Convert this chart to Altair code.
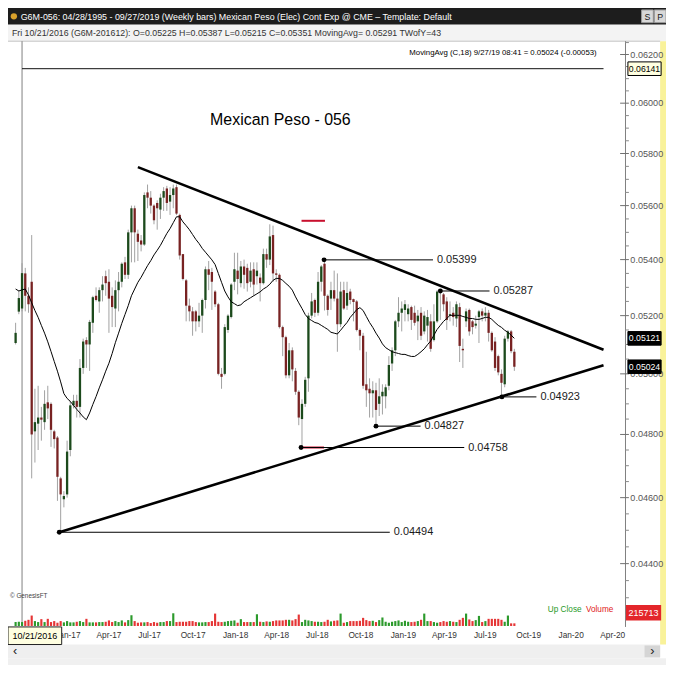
import math
import altair as alt
import pandas as pd

K = 658 / 674
def P(v):
    return round(v * K, 2)

FONT = "Liberation Sans, Arial, sans-serif"

# ---------------- data (weekly bars, 10/07/2016 .. 09/27/2019) ----------------
opens = [
0.05105, 0.05214, 0.05225, 0.05350, 0.05270, 0.05320, 0.04810, 0.04835, 0.04855, 0.04840,
0.04905, 0.04900, 0.04810, 0.04790, 0.04660, 0.04595, 0.04610, 0.04750, 0.04895, 0.04910,
0.04890, 0.05020, 0.05115, 0.05100, 0.05175, 0.05270, 0.05250, 0.05290, 0.05340, 0.05320,
0.05270, 0.05225, 0.05290, 0.05320, 0.05390, 0.05345, 0.05500, 0.05590, 0.05495, 0.05470,
0.05455, 0.05650, 0.05630, 0.05600, 0.05610, 0.05585, 0.05630, 0.05665, 0.05615, 0.05640,
0.05670, 0.05565, 0.05420, 0.05325, 0.05235, 0.05215, 0.05215, 0.05180, 0.05200, 0.05255,
0.05365, 0.05355, 0.05285, 0.05240, 0.05000, 0.05000, 0.05150, 0.05195, 0.05320, 0.05360,
0.05315, 0.05375, 0.05370, 0.05320, 0.05365, 0.05340, 0.05335, 0.05315, 0.05420, 0.05400,
0.05490, 0.05350, 0.05345, 0.05160, 0.05125, 0.04995, 0.05080, 0.05010, 0.04940, 0.04850,
0.04900, 0.04985, 0.05200, 0.05255, 0.05210, 0.05320, 0.05385, 0.05270, 0.05260, 0.05290,
0.05260, 0.05170, 0.05290, 0.05235, 0.05285, 0.05258, 0.05250, 0.05150, 0.05130, 0.04965,
0.04950, 0.04935, 0.04945, 0.04900, 0.04925, 0.04925, 0.04960, 0.05035, 0.05080, 0.05180,
0.05210, 0.05220, 0.05205, 0.05230, 0.05210, 0.05180, 0.05210, 0.05145, 0.05165, 0.05180,
0.05115, 0.05180, 0.05285, 0.05275, 0.05250, 0.05200, 0.05210, 0.05190, 0.05230, 0.05085,
0.05180, 0.05220, 0.05180, 0.05165, 0.05195, 0.05215, 0.05200, 0.05210, 0.05140, 0.05110,
0.05060, 0.05000, 0.04965, 0.05120, 0.05145, 0.05075]

highs = [
0.05175, 0.05290, 0.05387, 0.05370, 0.05300, 0.05490, 0.04950, 0.04960, 0.04890, 0.04945,
0.04960, 0.04905, 0.04815, 0.04795, 0.04665, 0.04620, 0.04780, 0.04910, 0.04930, 0.04930,
0.05050, 0.05120, 0.05125, 0.05185, 0.05270, 0.05300, 0.05300, 0.05340, 0.05360, 0.05365,
0.05300, 0.05325, 0.05355, 0.05390, 0.05410, 0.05510, 0.05600, 0.05600, 0.05510, 0.05490,
0.05650, 0.05680, 0.05655, 0.05605, 0.05620, 0.05645, 0.05670, 0.05675, 0.05670, 0.05680,
0.05680, 0.05570, 0.05420, 0.05330, 0.05260, 0.05230, 0.05220, 0.05245, 0.05260, 0.05375,
0.05395, 0.05370, 0.05290, 0.05245, 0.05020, 0.05170, 0.05205, 0.05315, 0.05425, 0.05425,
0.05395, 0.05400, 0.05385, 0.05390, 0.05390, 0.05390, 0.05350, 0.05440, 0.05440, 0.05530,
0.05525, 0.05365, 0.05350, 0.05165, 0.05130, 0.05105, 0.05090, 0.05020, 0.04945, 0.04915,
0.04990, 0.05210, 0.05280, 0.05260, 0.05355, 0.05380, 0.05399, 0.05275, 0.05320, 0.05360,
0.05350, 0.05320, 0.05320, 0.05320, 0.05295, 0.05260, 0.05255, 0.05155, 0.05140, 0.05075,
0.04985, 0.04975, 0.04970, 0.04985, 0.04965, 0.04965, 0.05060, 0.05090, 0.05185, 0.05265,
0.05250, 0.05255, 0.05240, 0.05235, 0.05235, 0.05220, 0.05230, 0.05215, 0.05220, 0.05205,
0.05240, 0.05290, 0.05287, 0.05280, 0.05265, 0.05250, 0.05230, 0.05250, 0.05245, 0.05120,
0.05225, 0.05225, 0.05185, 0.05200, 0.05220, 0.05225, 0.05230, 0.05220, 0.05145, 0.05125,
0.05065, 0.05015, 0.05130, 0.05150, 0.05150, 0.05085]

lows = [
0.05100, 0.05205, 0.05215, 0.05215, 0.05210, 0.04660, 0.04710, 0.04750, 0.04780, 0.04815,
0.04850, 0.04760, 0.04755, 0.04590, 0.04494, 0.04570, 0.04600, 0.04730, 0.04885, 0.04855,
0.04855, 0.05000, 0.05020, 0.05010, 0.05140, 0.05250, 0.05210, 0.05250, 0.05270, 0.05140,
0.05160, 0.05160, 0.05215, 0.05300, 0.05330, 0.05330, 0.05390, 0.05390, 0.05395, 0.05430,
0.05450, 0.05590, 0.05570, 0.05530, 0.05510, 0.05550, 0.05580, 0.05580, 0.05565, 0.05590,
0.05565, 0.05400, 0.05325, 0.05180, 0.05180, 0.05130, 0.05145, 0.05160, 0.05140, 0.05225,
0.05290, 0.05220, 0.05230, 0.04995, 0.04950, 0.04995, 0.05140, 0.05190, 0.05290, 0.05275,
0.05300, 0.05295, 0.05285, 0.05300, 0.05270, 0.05310, 0.05250, 0.05310, 0.05370, 0.05380,
0.05320, 0.05320, 0.05155, 0.05060, 0.04985, 0.04985, 0.04975, 0.04930, 0.04830, 0.04758,
0.04890, 0.04940, 0.05190, 0.05195, 0.05200, 0.05285, 0.05218, 0.05200, 0.05220, 0.05250,
0.05075, 0.05160, 0.05220, 0.05220, 0.05240, 0.05180, 0.05145, 0.05080, 0.04950, 0.04890,
0.04855, 0.04855, 0.04827, 0.04860, 0.04865, 0.04885, 0.04945, 0.05010, 0.05060, 0.05160,
0.05145, 0.05180, 0.05180, 0.05150, 0.05165, 0.05115, 0.05115, 0.05135, 0.05110, 0.05075,
0.05110, 0.05175, 0.05185, 0.05215, 0.05150, 0.05180, 0.05165, 0.05160, 0.05040, 0.05020,
0.05160, 0.05130, 0.05135, 0.05155, 0.05105, 0.05180, 0.05180, 0.05110, 0.05075, 0.05010,
0.04995, 0.04923, 0.04955, 0.05110, 0.05070, 0.05010]

closes = [
0.05140, 0.05262, 0.05351, 0.05270, 0.05240, 0.04800, 0.04840, 0.04855, 0.04848, 0.04900,
0.04885, 0.04815, 0.04785, 0.04665, 0.04610, 0.04605, 0.04745, 0.04895, 0.04910, 0.04890,
0.05020, 0.05110, 0.05100, 0.05178, 0.05265, 0.05255, 0.05290, 0.05310, 0.05315, 0.05260,
0.05230, 0.05290, 0.05320, 0.05385, 0.05345, 0.05500, 0.05590, 0.05500, 0.05465, 0.05455,
0.05640, 0.05630, 0.05600, 0.05545, 0.05590, 0.05630, 0.05655, 0.05610, 0.05640, 0.05665,
0.05570, 0.05415, 0.05330, 0.05235, 0.05215, 0.05180, 0.05180, 0.05200, 0.05255, 0.05365,
0.05345, 0.05320, 0.05240, 0.05000, 0.04990, 0.05160, 0.05200, 0.05310, 0.05365, 0.05330,
0.05375, 0.05345, 0.05315, 0.05360, 0.05310, 0.05360, 0.05315, 0.05420, 0.05400, 0.05485,
0.05350, 0.05345, 0.05160, 0.05125, 0.04995, 0.05080, 0.05015, 0.04940, 0.04855, 0.04900,
0.04980, 0.05200, 0.05250, 0.05210, 0.05320, 0.05375, 0.05270, 0.05220, 0.05290, 0.05260,
0.05170, 0.05285, 0.05225, 0.05280, 0.05255, 0.05248, 0.05150, 0.05130, 0.04960, 0.04945,
0.04935, 0.04945, 0.04880, 0.04925, 0.04940, 0.04955, 0.05030, 0.05080, 0.05180, 0.05210,
0.05225, 0.05240, 0.05225, 0.05185, 0.05175, 0.05200, 0.05130, 0.05200, 0.05195, 0.05085,
0.05180, 0.05285, 0.05280, 0.05240, 0.05185, 0.05205, 0.05195, 0.05240, 0.05095, 0.05080,
0.05215, 0.05145, 0.05160, 0.05172, 0.05215, 0.05200, 0.05210, 0.05140, 0.05080, 0.05020,
0.05005, 0.04970, 0.05120, 0.05145, 0.05077, 0.05024]

moving_avg = [
0.05294, 0.05287, 0.05291, 0.05294, 0.05273, 0.05245, 0.05218, 0.05194, 0.05166, 0.05139,
0.05109, 0.05076, 0.05042, 0.05009, 0.04973, 0.04934, 0.04918, 0.04908, 0.04895, 0.04882,
0.04870, 0.04857, 0.04848, 0.04870, 0.04898, 0.04924, 0.04953, 0.04980, 0.05009, 0.05036,
0.05069, 0.05106, 0.05139, 0.05173, 0.05204, 0.05235, 0.05270, 0.05294, 0.05318, 0.05336,
0.05357, 0.05378, 0.05396, 0.05417, 0.05434, 0.05452, 0.05474, 0.05496, 0.05514, 0.05536,
0.05558, 0.05558, 0.05539, 0.05525, 0.05510, 0.05492, 0.05474, 0.05459, 0.05441, 0.05427,
0.05413, 0.05399, 0.05382, 0.05350, 0.05318, 0.05287, 0.05266, 0.05249, 0.05242, 0.05235,
0.05238, 0.05249, 0.05256, 0.05263, 0.05270, 0.05277, 0.05284, 0.05294, 0.05301, 0.05311,
0.05325, 0.05332, 0.05332, 0.05325, 0.05314, 0.05304, 0.05290, 0.05266, 0.05245, 0.05225,
0.05204, 0.05190, 0.05183, 0.05176, 0.05173, 0.05166, 0.05159, 0.05152, 0.05142, 0.05139,
0.05136, 0.05149, 0.05163, 0.05176, 0.05194, 0.05207, 0.05221, 0.05228, 0.05218, 0.05197,
0.05176, 0.05159, 0.05139, 0.05122, 0.05102, 0.05089, 0.05082, 0.05075, 0.05072, 0.05069,
0.05066, 0.05066, 0.05062, 0.05059, 0.05059, 0.05066, 0.05075, 0.05085, 0.05099, 0.05112,
0.05132, 0.05152, 0.05166, 0.05180, 0.05190, 0.05201, 0.05201, 0.05201, 0.05201, 0.05197,
0.05194, 0.05190, 0.05190, 0.05187, 0.05187, 0.05190, 0.05194, 0.05194, 0.05187, 0.05176,
0.05166, 0.05159, 0.05149, 0.05142, 0.05132, 0.05121]

volumes = [
64000, 69000, 64000, 85000, 101000, 171000, 80000, 64000, 112000, 64000,
117000, 64000, 80000, 53000, 80000, 59000, 80000, 59000, 59000, 69000,
80000, 64000, 117000, 59000, 59000, 59000, 64000, 64000, 69000, 91000,
64000, 80000, 64000, 91000, 59000, 96000, 176000, 80000, 53000, 59000,
59000, 64000, 48000, 64000, 53000, 64000, 64000, 80000, 80000, 208000,
64000, 69000, 69000, 69000, 80000, 80000, 64000, 59000, 59000, 64000,
64000, 80000, 203000, 69000, 64000, 69000, 80000, 85000, 91000, 53000,
112000, 64000, 64000, 64000, 64000, 192000, 69000, 64000, 75000, 69000,
80000, 91000, 91000, 91000, 101000, 101000, 91000, 112000, 187000, 64000,
101000, 91000, 80000, 69000, 69000, 64000, 69000, 101000, 75000, 85000,
91000, 203000, 53000, 64000, 80000, 80000, 80000, 85000, 133000, 96000,
80000, 85000, 64000, 96000, 139000, 69000, 53000, 69000, 80000, 91000,
64000, 85000, 69000, 64000, 69000, 80000, 101000, 203000, 80000, 80000,
64000, 53000, 64000, 80000, 69000, 80000, 69000, 64000, 101000, 133000,
203000, 107000, 80000, 96000, 165000, 64000, 80000, 117000, 117000, 117000,
117000, 101000, 69000, 171000, 43000, 43000]

n = len(closes)
assert len(opens) == n and len(highs) == n and len(lows) == n and len(volumes) == n and len(moving_avg) == n

week_dates = pd.date_range("2016-10-07", periods=n, freq="7D").strftime("%Y-%m-%d").tolist()

# annotations
ann_dates = ["2017-01-10", "2018-06-20", "2018-08-09", "2018-11-30", "2019-04-19", "2019-08-31"]
ann_end = ["2018-12-30", "2019-06-10", "2019-04-03", "2019-03-07", "2019-08-04", "2019-11-14"]
ann_price = [0.04494, 0.04758, 0.05399, 0.04827, 0.05287, 0.04923]

trend_start_date = ["2017-06-30", "2017-01-10"]
trend_start_price = [0.05747, 0.04494]
trend_end_date = ["2020-04-08", "2020-04-08"]
trend_end_price = [0.05082, 0.05029]

red_d0 = ["2018-06-21", "2018-06-21"]
red_d1 = ["2018-08-11", "2018-08-09"]
red_p = [0.05543, 0.04758]

month_dates = ["2017-01-01", "2017-04-01", "2017-07-01", "2017-10-01", "2018-01-01", "2018-04-01",
               "2018-07-01", "2018-10-01", "2019-01-01", "2019-04-01", "2019-07-01", "2019-10-01",
               "2020-01-01", "2020-04-01"]
month_labels = ["Jan-17", "Apr-17", "Jul-17", "Oct-17", "Jan-18", "Apr-18", "Jul-18", "Oct-18",
                "Jan-19", "Apr-19", "Jul-19", "Oct-19", "Jan-20", "Apr-20"]

major_ticks = [0.044, 0.046, 0.048, 0.050, 0.052, 0.054, 0.056, 0.058, 0.060, 0.062]
minor_ticks = [0.0425, 0.043, 0.0435] + [m + k * 0.0005 for m in major_ticks for k in (1, 2, 3)]
minor_ticks = [t for t in minor_ticks if t < 0.0626]

last_line = 0.06141
ma_last = 0.05121
close_last = 0.05024
vol_label = 215713

# ---------------- frames ----------------
bars = pd.DataFrame({"date": week_dates, "open": opens, "high": highs, "low": lows,
                     "close": closes, "volume": volumes, "ma": moving_avg})
ann = pd.DataFrame({"d": ann_dates, "e": ann_end, "p": ann_price})
trend = pd.DataFrame({"d0": trend_start_date, "p0": trend_start_price, "d1": trend_end_date, "p1": trend_end_price})
reds = pd.DataFrame({"d0": red_d0, "d1": red_d1, "p": red_p})
months = pd.DataFrame({"d": month_dates, "lab": month_labels})
majors = pd.DataFrame({"v": major_ticks})
minors = pd.DataFrame({"v": minor_ticks})
one = pd.DataFrame({"k": [0]})

# ---------------- scales ----------------
DAY_MS = 86400000
LAST_MS = int(pd.Timestamp("2019-09-27", tz="UTC").value // 10**6)
PX_DAY = 0.4786
X_LAST = 522.0
xscale = alt.Scale(domain=[LAST_MS - X_LAST / PX_DAY * DAY_MS,
                           LAST_MS + (632 - X_LAST) / PX_DAY * DAY_MS],
                   range=[0, P(632)])

A_V, A_Y, B_V, B_Y = 0.05399, 258.0, 0.04494, 537.0
LB = (B_Y - A_Y) / math.log(A_V / B_V)
def v_at(yref):
    return A_V * math.exp((A_Y - yref) / LB)
yscale = alt.Scale(type="log", domain=[v_at(634), v_at(34)], range=[P(634), P(34)], nice=False, zero=False)
VPX = 16000
vscale = alt.Scale(domain=[0, VPX * (633 - 590)], range=[P(633), P(590)], nice=False, zero=False)

def X(f):
    return alt.X(f, scale=xscale, axis=None)
def Y(f):
    return alt.Y(f, scale=yscale, axis=None)

def prect(x0, x1, y0, y1, fill, stroke=None):
    kw = {"fill": fill}
    if stroke:
        kw.update(stroke=stroke, strokeWidth=1)
    return alt.Chart(one).mark_rect(**kw).encode(
        x=alt.value(P(x0)), x2=alt.value(P(x1)), y=alt.value(P(y0)), y2=alt.value(P(y1)))

def ptext(x, y, s, size, color, align="left", weight="normal"):
    return alt.Chart(one).mark_text(text=s, font=FONT, fontSize=round(size * K, 2), color=color,
                                    align=align, baseline="middle", fontWeight=weight).encode(
        x=alt.value(P(x)), y=alt.value(P(y)))

layers = []
# backgrounds
layers.append(prect(0, 674, 17, 34, "#f3f3f3"))
layers.append(prect(0, 674, 0, 17, "#1d1d1d"))
layers.append(prect(668, 674, 34, 652, "#f9f29a"))
layers.append(prect(0, 668, 652, 666, "#efefef"))
layers.append(prect(652, 668, 653, 665, "#d5d5d5"))
layers.append(prect(0, 674, 666, 673, "#f0f0f0"))
layers.append(alt.Chart(one).mark_rule(color="#c4c4c4").encode(
    x=alt.value(0), x2=alt.value(P(668)), y=alt.value(P(34))))

# cursor and level line
layers.append(alt.Chart(pd.DataFrame({"d": ["2016-10-21"]})).mark_rule(color="#808080", strokeWidth=1).encode(
    x=X("d:T"), y=alt.value(P(34)), y2=alt.value(P(633))))
layers.append(alt.Chart(pd.DataFrame({"d0": ["2016-10-21"], "d1": ["2020-04-08"], "p": [last_line]}))
              .mark_rule(color="#111111", strokeWidth=1).encode(x=X("d0:T"), x2="d1:T", y=Y("p:Q")))

# volume
layers.append(alt.Chart(bars).transform_calculate(dir="datum.close >= datum.open ? 'up' : 'down'")
              .mark_bar(size=round(2.2 * K, 2)).encode(
    x=X("date:T"), y=alt.Y("volume:Q", scale=vscale, axis=None),
    color=alt.Color("dir:N", scale=alt.Scale(domain=["up", "down"], range=["#2c9a2c", "#e53535"]), legend=None)))

# price bars
layers.append(alt.Chart(bars).mark_rule(color="#a2a2a2", strokeWidth=1).encode(
    x=X("date:T"), y=Y("low:Q"), y2="high:Q"))
layers.append(alt.Chart(bars).transform_calculate(dir="datum.close >= datum.open ? 'up' : 'down'")
              .mark_rule(strokeWidth=2.3).encode(
    x=X("date:T"), y=Y("open:Q"), y2="close:Q",
    color=alt.Color("dir:N", scale=alt.Scale(domain=["up", "down"], range=["#1c4a1c", "#782222"]), legend=None)))
layers.append(alt.Chart(bars).mark_line(color="#000000", strokeWidth=1).encode(x=X("date:T"), y=Y("ma:Q")))

# trend lines & annotations
layers.append(alt.Chart(trend).mark_rule(color="#000000", strokeWidth=2.6).encode(
    x=X("d0:T"), x2="d1:T", y=Y("p0:Q"), y2="p1:Q"))
layers.append(alt.Chart(reds).mark_rule(color="#c8102e", strokeWidth=2).encode(x=X("d0:T"), x2="d1:T", y=Y("p:Q")))
layers.append(alt.Chart(ann).mark_rule(color="#000000", strokeWidth=1).encode(x=X("d:T"), x2="e:T", y=Y("p:Q")))
layers.append(alt.Chart(ann).mark_circle(size=24, color="#000000", opacity=1).encode(x=X("d:T"), y=Y("p:Q")))
layers.append(alt.Chart(ann).mark_text(align="left", baseline="middle", dx=4, font=FONT,
                                       fontSize=round(11.2 * K, 2), color="#1a1a1a").encode(
    x=X("e:T"), y=Y("p:Q"), text=alt.Text("p:Q", format=".5f")))

# title and MA legend
layers.append(ptext(207, 115, "Mexican Peso - 056", 16.3, "#000000"))
layers.append(ptext(603, 46, "MovingAvg (C,18)  9/27/19 08:41 = 0.05024 (-0.00053)", 8.0, "#000000", align="right"))

# right price axis
layers.append(alt.Chart(one).mark_rule(color="#808080").encode(
    x=alt.value(P(632.5)), y=alt.value(P(34)), y2=alt.value(P(634))))
layers.append(alt.Chart(majors).mark_rule(color="#707070").encode(
    y=Y("v:Q"), x=alt.value(P(627)), x2=alt.value(P(636))))
layers.append(alt.Chart(minors).mark_rule(color="#8a8a8a").encode(
    y=Y("v:Q"), x=alt.value(P(632)), x2=alt.value(P(636))))
layers.append(alt.Chart(majors).mark_text(align="left", baseline="middle", font=FONT,
                                          fontSize=round(9.3 * K, 2), color="#555555").encode(
    y=Y("v:Q"), x=alt.value(P(637.5)), text=alt.Text("v:Q", format=".5f")))

BOX = "M-1.66,-0.68L1.66,-0.68L1.66,0.68L-1.66,0.68Z"
def price_box(value, fill, tcolor, stroke):
    d = pd.DataFrame({"p": [value]})
    b = alt.Chart(d).mark_point(shape=BOX, size=400, filled=True, fill=fill, stroke=stroke, strokeWidth=1,
                                opacity=1, fillOpacity=1, strokeOpacity=1).encode(x=alt.value(P(652)), y=Y("p:Q"))
    t = alt.Chart(d).mark_text(align="center", baseline="middle", font=FONT, fontSize=round(8.9 * K, 2),
                               color=tcolor).encode(x=alt.value(P(652)), y=Y("p:Q"), text=alt.Text("p:Q", format=".5f"))
    return [b, t]

layers += price_box(last_line, "#ffffe1", "#000000", "#000000")
layers += price_box(ma_last, "#000000", "#ffffff", "#000000")
layers += price_box(close_last, "#000000", "#ffffff", "#000000")
vd = pd.DataFrame({"v": [vol_label]})
layers.append(alt.Chart(vd).mark_point(shape=BOX, size=400, filled=True, fill="#e3262b", stroke="#e3262b",
                                       opacity=1, fillOpacity=1).encode(
    x=alt.value(P(651)), y=alt.Y("v:Q", scale=vscale, axis=None)))
layers.append(alt.Chart(vd).mark_text(align="center", baseline="middle", font=FONT, fontSize=round(9.2 * K, 2),
                                      color="#ffffff").encode(
    x=alt.value(P(651)), y=alt.Y("v:Q", scale=vscale, axis=None), text=alt.Text("v:Q", format="d")))

# volume legend and copyright
layers.append(ptext(553, 617, "Up Close", 8.4, "#1f9a1f"))
layers.append(ptext(592, 617, "Volume", 8.4, "#e02020"))
layers.append(ptext(2, 602, "\u00a9 GenesisFT", 6.5, "#444444"))

# x axis labels
layers.append(alt.Chart(months).mark_text(align="left", baseline="middle", font=FONT,
                                          fontSize=round(8.5 * K, 2), color="#333333").encode(
    x=X("d:T"), y=alt.value(P(643)), text="lab:N"))
layers.append(prect(0, 55, 634, 652, "#ffffe1", "#222222"))
layers.append(ptext(27.5, 643, "10/21/2016", 9.2, "#000000", align="center"))

# scrollbar arrows
layers.append(ptext(5, 659, "\u2039", 13, "#222222"))
layers.append(ptext(660, 659, "\u203a", 13, "#222222", align="center"))

# header rows
layers.append(alt.Chart(one).mark_circle(size=40, color="#d9a12b", opacity=1).encode(
    x=alt.value(P(6)), y=alt.value(P(8.5))))
layers.append(ptext(13, 9, "G6M-056:  04/28/1995 - 09/27/2019  (Weekly bars)  Mexican Peso (Elec) Cont Exp @ CME  \u2013  Template: Default",
                    9.1, "#ffffff"))
layers.append(prect(649, 661, 2, 15, "#d8d8d8", "#9a9a9a"))
layers.append(prect(662, 674, 2, 15, "#d8d8d8", "#9a9a9a"))
layers.append(ptext(655, 9, "S", 9, "#222222", align="center"))
layers.append(ptext(668, 9, "P", 9, "#222222", align="center"))
layers.append(ptext(4, 25.5, "Fri  10/21/2016 (G6M-201612):  O=0.05225  H=0.05387  L=0.05215  C=0.05351  MovingAvg= 0.05291  TWofY=43",
                    9.0, "#333333"))

chart = alt.layer(*layers).resolve_scale(y="independent", color="independent").properties(
    width=658, height=657, padding=0, autosize=alt.AutoSizeParams(type="none"),
    background="#ffffff").configure_view(strokeWidth=0)

chart.save("out.html", embed_options={"renderer": "svg", "actions": False})
